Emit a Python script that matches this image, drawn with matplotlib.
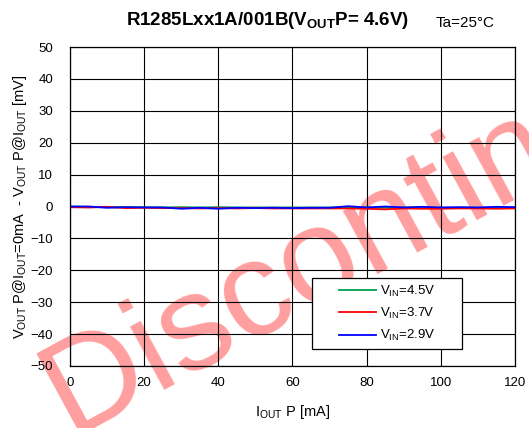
import numpy as np
import matplotlib.pyplot as plt
from matplotlib.patches import Rectangle

plt.rcParams['font.family'] = ['Liberation Sans', 'DejaVu Sans']
plt.rcParams['mathtext.fontset'] = 'custom'
plt.rcParams['mathtext.rm'] = 'Liberation Sans'
plt.rcParams['mathtext.it'] = 'Liberation Sans'
plt.rcParams['mathtext.bf'] = 'Liberation Sans:bold'

iout = [0, 5, 10, 15, 20, 25, 30, 35, 40, 45, 50, 55, 60, 65, 70, 75, 80, 85, 90, 95, 100, 105, 110, 115, 120]
v45 = [0.0, -0.1, -0.1, -0.2, -0.2, -0.3, -0.2, -0.3, -0.2, -0.3, -0.3, -0.3, -0.3, -0.3, -0.3, -0.3, -0.3, -0.4, -0.3, -0.3, -0.4, -0.4, -0.4, -0.4, -0.4]
v37 = [-0.2, -0.3, -0.1, -0.5, -0.4, -0.5, -0.5, -0.6, -0.5, -0.6, -0.5, -0.6, -0.6, -0.6, -0.6, -0.6, -0.7, -0.9, -0.6, -0.7, -0.7, -0.6, -0.6, -0.7, -0.6]
v29 = [0.0, 0.0, -0.4, -0.2, -0.3, -0.3, -0.7, -0.4, -0.7, -0.4, -0.5, -0.4, -0.5, -0.4, -0.4, 0.1, -0.3, 0.0, -0.3, -0.1, -0.3, -0.2, -0.3, -0.1, -0.2]
labels = ['V$_{\\rm IN}$=4.5V', 'V$_{\\rm IN}$=3.7V', 'V$_{\\rm IN}$=2.9V']
colors = ['#00a050', '#ff0000', '#0000ff']

fig = plt.figure(figsize=(5.29, 4.28), dpi=100)
ax = fig.add_axes([0.1323, 0.145, 0.841, 0.745])
ax.set_facecolor('none')

for y, lab, c in zip([v45, v37, v29], labels, colors):
    ax.plot(iout, y, color=c, lw=1.3, label=lab)

ax.set_xlim(0, 120)
ax.set_ylim(-50, 50)
ax.set_xticks(np.arange(0, 121, 20))
ax.set_yticks(np.arange(-50, 51, 10))
ax.grid(True, color='black', lw=0.8)
ax.tick_params(length=0, labelsize=9.5)
ax.tick_params(axis='x', pad=8)
ax.tick_params(axis='y', pad=12)
for s in ax.spines.values():
    s.set_linewidth(0.9)

ax.set_xlabel('I$_{\\rm OUT}$ P [mA]', fontsize=10.5, labelpad=10)
ax.set_ylabel('V$_{\\rm OUT}$ P@I$_{\\rm OUT}$=0mA  - V$_{\\rm OUT}$ P@I$_{\\rm OUT}$ [mV]', fontsize=10.5, labelpad=1)

# legend frame drawn separately (wider box than matplotlib's padding allows)
box = Rectangle((0.544, 0.053), 0.337, 0.223, transform=ax.transAxes, facecolor='white',
                edgecolor='black', lw=0.9, zorder=4)
ax.add_patch(box)
leg = ax.legend(loc='center', bbox_to_anchor=(0.7125, 0.1645), fontsize=9.5, handlelength=2.8,
                handletextpad=0.3, frameon=False, labelspacing=0.55, borderpad=0)
leg.set_zorder(5)

fig.text(0.505, 0.952, 'R1285Lxx1A/001B(V$_{\\bf OUT}$P= 4.6V)', ha='center', va='center',
         fontsize=13.5, fontweight='bold')
fig.text(0.879, 0.946, 'Ta=25°C', ha='center', va='center', fontsize=11)

fig.text(70 / 529, 1 - 435 / 428, 'Discontinued', rotation=28.5, rotation_mode='anchor',
         ha='left', va='baseline', fontsize=98, color='#ff0000', alpha=0.38, zorder=-1)

fig.savefig('out.png', dpi=100)
